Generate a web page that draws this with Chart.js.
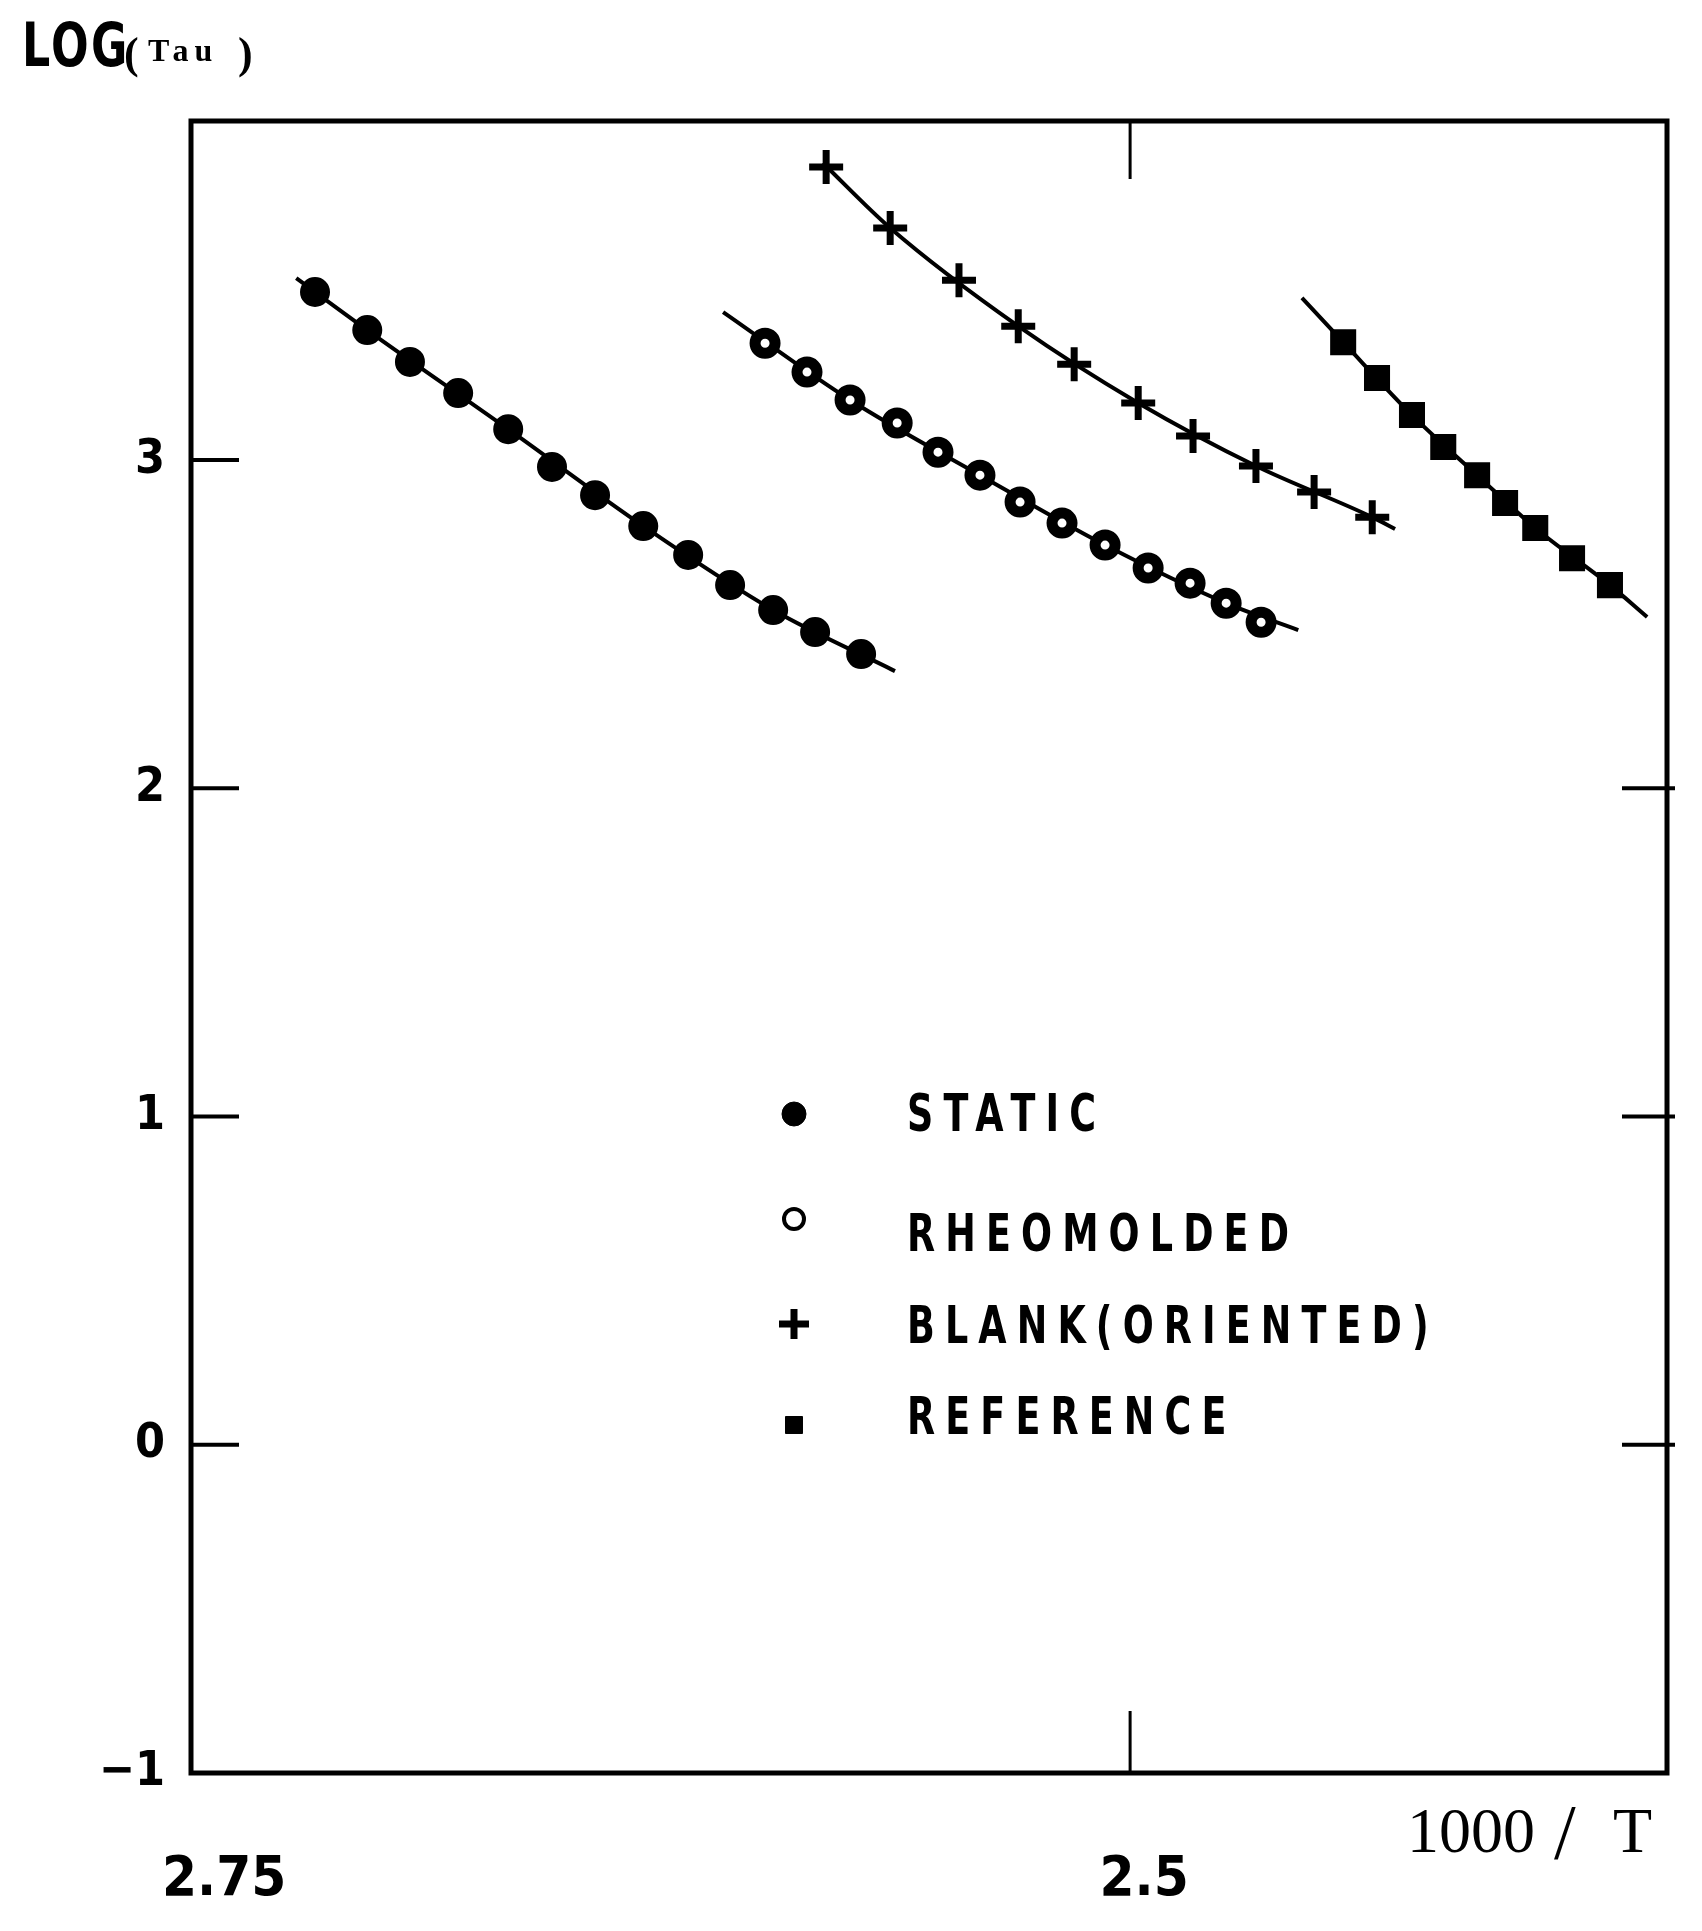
<!DOCTYPE html>
<html>
<head>
<meta charset="utf-8">
<script src="https://cdn.jsdelivr.net/npm/chart.js@4.4.1/dist/chart.umd.min.js"></script>
<style>
html,body{margin:0;padding:0;background:#fff;}
canvas{display:block;}
</style>
</head>
<body>
<canvas id="c" width="1702" height="1931"></canvas>
<script>
// ---------------- DATA ----------------
const seriesNames = ['STATIC', 'RHEOMOLDED', 'BLANK(ORIENTED)', 'REFERENCE'];

// STATIC (filled circles)
const staticX = [2.7215, 2.7073, 2.6957, 2.6826, 2.6690, 2.6571, 2.6454, 2.6323, 2.6201, 2.6087, 2.5970, 2.5856, 2.5731];
const staticY = [3.512, 3.396, 3.299, 3.204, 3.094, 2.979, 2.893, 2.799, 2.711, 2.619, 2.543, 2.476, 2.409];
const staticFitX = [2.7266, 2.7073, 2.6690, 2.6323, 2.5970, 2.5639];
const staticFitY = [3.554, 3.396, 3.094, 2.799, 2.543, 2.357];

// RHEOMOLDED (open circles)
const rheoX = [2.5992, 2.5878, 2.5761, 2.5633, 2.5522, 2.5408, 2.5299, 2.5185, 2.5068, 2.4951, 2.4837, 2.4739, 2.4644];
const rheoY = [3.356, 3.268, 3.183, 3.113, 3.024, 2.954, 2.872, 2.808, 2.741, 2.671, 2.625, 2.564, 2.506];
const rheoFitX = [2.6106, 2.5761, 2.5408, 2.5068, 2.4739, 2.4543];
const rheoFitY = [3.451, 3.183, 2.954, 2.741, 2.564, 2.482];

// BLANK (ORIENTED) (crosses)
const blankX = [2.5826, 2.5652, 2.5465, 2.5304, 2.5152, 2.4978, 2.4829, 2.4658, 2.4500, 2.4342];
const blankY = [3.893, 3.707, 3.548, 3.408, 3.292, 3.174, 3.073, 2.982, 2.903, 2.826];
const blankFitX = [2.5835, 2.5652, 2.5304, 2.4978, 2.4658, 2.4342, 2.4280];
const blankFitY = [3.905, 3.707, 3.408, 3.174, 2.982, 2.826, 2.790];

// REFERENCE (filled squares)
const refX = [2.4421, 2.4329, 2.4234, 2.4149, 2.4057, 2.3981, 2.3899, 2.3799, 2.3696];
const refY = [3.359, 3.250, 3.137, 3.040, 2.954, 2.869, 2.793, 2.701, 2.619];
const refFitX = [2.4533, 2.4421, 2.4234, 2.4057, 2.3899, 2.3696, 2.3595];
const refFitY = [3.494, 3.359, 3.137, 2.954, 2.793, 2.619, 2.522];

// Axes
const xRange = [2.3541, 2.7552];
const yRange = [-1, 4.033];
const xTickValues = [2.75, 2.5];
const xTickLabels = ['2.75', '2.5'];
const yTickValues = [-1, 0, 1, 2, 3];
const yTickLabels = ['\u22121', '0', '1', '2', '3'];
const leftTickMarks = [0, 1, 2, 3];
const rightTickMarks = [0, 1, 2];
const xTickMarks = [2.5];

// ---------------- HELPERS ----------------
const pts = (xs, ys) => xs.map((v, i) => ({x: v, y: ys[i]}));
const COND = '"DejaVu Sans Condensed", "DejaVu Sans", sans-serif';
const SERIF = '"Liberation Serif", "DejaVu Serif", serif';

const markerStyles = [
  {pointStyle: 'circle', radius: 14, bg: '#000', bw: 2},
  {pointStyle: 'circle', radius: 10, bg: '#fff', bw: 11},
  {pointStyle: 'cross', radius: 17, bg: '#000', bw: 7},
  {pointStyle: 'rect', radius: 17, bg: '#000', bw: 2}
];
const legendStyles = [
  {pointStyle: 'circle', radius: 12, bg: '#000', bw: 1},
  {pointStyle: 'circle', radius: 10, bg: '#fff', bw: 4},
  {pointStyle: 'cross', radius: 15, bg: '#000', bw: 7},
  {pointStyle: 'rect', radius: 12, bg: '#000', bw: 1}
];

const markerSets = [pts(staticX, staticY), pts(rheoX, rheoY), pts(blankX, blankY), pts(refX, refY)];
const fitSets = [pts(staticFitX, staticFitY), pts(rheoFitX, rheoFitY), pts(blankFitX, blankFitY), pts(refFitX, refFitY)];

const datasets = [];
fitSets.forEach((d, i) => {
  datasets.push({
    label: seriesNames[i] + ' fit',
    data: d,
    showLine: true,
    borderColor: '#000',
    borderWidth: 4,
    pointRadius: 0,
    cubicInterpolationMode: 'monotone',
    fill: false,
    order: 2
  });
});
markerSets.forEach((d, i) => {
  const s = markerStyles[i];
  datasets.push({
    label: seriesNames[i],
    data: d,
    showLine: false,
    pointStyle: s.pointStyle,
    pointRadius: s.radius,
    pointBackgroundColor: s.bg,
    pointBorderColor: '#000',
    pointBorderWidth: s.bw,
    order: 1
  });
});

function drawText(ctx, text, x, y, font, sx, spacing, baseline) {
  ctx.save();
  ctx.translate(x, y);
  ctx.scale(sx, 1);
  ctx.font = font;
  ctx.letterSpacing = spacing + 'px';
  ctx.textAlign = 'left';
  ctx.textBaseline = baseline || 'alphabetic';
  ctx.fillStyle = '#000';
  ctx.fillText(text, 0, 0);
  ctx.restore();
}

// ---------------- DECORATION PLUGIN ----------------
const decor = {
  id: 'decor',
  afterDraw(chart) {
    const {ctx, chartArea: a, scales: {x, y}} = chart;
    ctx.save();
    ctx.strokeStyle = '#000';
    ctx.fillStyle = '#000';
    ctx.lineCap = 'butt';

    // frame
    ctx.lineWidth = 5;
    ctx.strokeRect(a.left, a.top, a.right - a.left, a.bottom - a.top);

    // tick marks
    const seg = (x1, y1, x2, y2) => { ctx.beginPath(); ctx.moveTo(x1, y1); ctx.lineTo(x2, y2); ctx.stroke(); };
    ctx.lineWidth = 4;
    leftTickMarks.forEach(v => { const py = y.getPixelForValue(v); seg(a.left, py, a.left + 48, py); });
    rightTickMarks.forEach(v => { const py = y.getPixelForValue(v); seg(a.right - 45, py, a.right + 8, py); });
    ctx.lineWidth = 3;
    xTickMarks.forEach(v => {
      const px = x.getPixelForValue(v);
      seg(px, a.top, px, a.top + 58);
      seg(px, a.bottom, px, a.bottom - 62);
    });

    // Y title: LOG( Tau )
    drawText(ctx, 'LOG', 22, 66, 'bold 60px ' + COND, 0.82, 3);
    drawText(ctx, '(', 124, 68, 'bold 44px ' + SERIF, 1, 0);
    drawText(ctx, 'Tau', 148, 61, 'bold 32px ' + SERIF, 1, 6);
    drawText(ctx, ')', 238, 68, 'bold 44px ' + SERIF, 1, 0);

    // X title: 1000 / T
    drawText(ctx, '1000', 1407, 1852, '64px ' + SERIF, 1, 0);
    drawText(ctx, '/', 1554, 1858, '78px ' + SERIF, 1, 0);
    drawText(ctx, 'T', 1613, 1852, '64px ' + SERIF, 1, 0);

    // legend
    const legX = 794, textX = 907;
    const markY = [1114, 1219, 1324, 1425];
    const textY = [1117, 1237, 1329, 1420];
    seriesNames.forEach((name, i) => {
      const s = legendStyles[i];
      ctx.fillStyle = s.bg;
      ctx.strokeStyle = '#000';
      ctx.lineWidth = s.bw;
      Chart.helpers.drawPoint(ctx, {pointStyle: s.pointStyle, radius: s.radius, borderWidth: s.bw, rotation: 0}, legX, markY[i]);
      drawText(ctx, name, textX, textY[i], 'bold 52px ' + COND, 0.78, 13, 'middle');
    });
    ctx.restore();
  }
};

// ---------------- CHART ----------------
new Chart(document.getElementById('c'), {
  type: 'scatter',
  data: {datasets},
  options: {
    responsive: false,
    animation: false,
    devicePixelRatio: 1,
    layout: {padding: {top: 121, right: 35, left: 0, bottom: 0}},
    plugins: {legend: {display: false}, tooltip: {enabled: false}},
    scales: {
      x: {
        type: 'linear',
        reverse: true,
        min: xRange[0],
        max: xRange[1],
        grid: {display: false, drawTicks: false},
        border: {display: false},
        afterBuildTicks: s => { s.ticks = xTickValues.map(v => ({value: v})); },
        afterFit: s => { s.height = 158; },
        ticks: {
          autoSkip: false,
          maxRotation: 0,
          padding: 74,
          labelOffset: 14,
          color: '#000',
          font: {family: COND, size: 56, weight: 'bold'},
          callback: (v, i) => xTickLabels[i]
        }
      },
      y: {
        type: 'linear',
        min: yRange[0],
        max: yRange[1],
        grid: {display: false, drawTicks: false},
        border: {display: false},
        afterBuildTicks: s => { s.ticks = yTickValues.map(v => ({value: v})); },
        afterFit: s => { s.width = 191; },
        ticks: {
          autoSkip: false,
          padding: 26,
          color: '#000',
          font: {family: COND, size: 48, weight: 'bold'},
          callback: (v, i) => yTickLabels[i]
        }
      }
    }
  },
  plugins: [decor]
});
</script>
</body>
</html>
